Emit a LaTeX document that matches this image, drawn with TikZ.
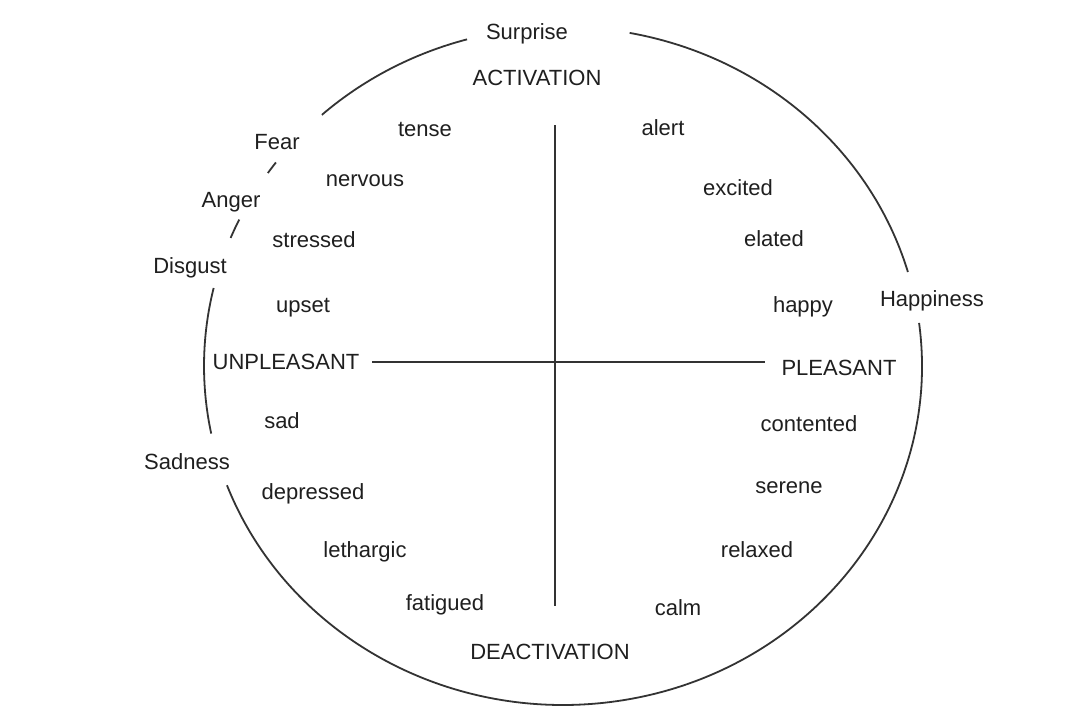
\documentclass[tikz,border=0pt]{standalone}
\usepackage{fontspec}
\setmainfont{Liberation Sans}
\begin{document}
\begin{tikzpicture}[x=1pt,y=-1pt,
  lbl/.style={anchor=base,inner sep=0pt,font=\fontsize{22}{26}\selectfont,text=black!88},
  axisline/.style={line width=1.8pt,draw=black!80},
  rim/.style={line width=1.8pt,draw=black!80}]
\useasboundingbox[fill=white] (0,0) rectangle (1080,720);
% rim arcs of the ellipse, centre (563,366)
\coordinate (c) at (563,366);
\draw[rim] (c) ++(-79.3:359 and 339) arc[start angle=-79.3, end angle=-16.1, x radius=359, y radius=339];
\draw[rim] (c) ++(-7.3:359 and 339) arc[start angle=-7.3, end angle=159.4, x radius=359, y radius=339];
\draw[rim] (c) ++(168.5:359 and 339) arc[start angle=168.5, end angle=193.3, x radius=359, y radius=339];
\draw[rim] (c) ++(202.2:359 and 339) arc[start angle=202.2, end angle=205.6, x radius=359, y radius=339];
\draw[rim] (c) ++(214.7:359 and 339) arc[start angle=214.7, end angle=216.9, x radius=359, y radius=339];
\draw[rim] (c) ++(227.8:359 and 339) arc[start angle=227.8, end angle=254.5, x radius=359, y radius=339];
% axes
\coordinate (vtop) at (555,125);
\coordinate (vbot) at (555,606);
\coordinate (hleft) at (372,362);
\coordinate (hright) at (765,362);
\draw[axisline] (vtop) -- (vbot);
\draw[axisline] (hleft) -- (hright);
% labels
\node[lbl] (surprise) at (527,39) {Surprise};
\node[lbl] (activation) at (537,85) {ACTIVATION};
\node[lbl] (tense) at (425,136) {tense};
\node[lbl] (fear) at (277,149) {Fear};
\node[lbl] (nervous) at (365,186) {nervous};
\node[lbl] (anger) at (231,207) {Anger};
\node[lbl] (stressed) at (314,247) {stressed};
\node[lbl] (disgust) at (190,273) {Disgust};
\node[lbl] (upset) at (303,312) {upset};
\node[lbl] (unpleasant) at (286,369) {UNPLEASANT};
\node[lbl] (sad) at (282,428) {sad};
\node[lbl] (sadness) at (187,469) {Sadness};
\node[lbl] (depressed) at (313,499) {depressed};
\node[lbl] (lethargic) at (365,557) {lethargic};
\node[lbl] (fatigued) at (445,610) {fatigued};
\node[lbl] (deactivation) at (550,659) {DEACTIVATION};
\node[lbl] (alert) at (663,135) {alert};
\node[lbl] (excited) at (738,195) {excited};
\node[lbl] (elated) at (774,246) {elated};
\node[lbl] (happy) at (803,312) {happy};
\node[lbl] (happiness) at (932,306) {Happiness};
\node[lbl] (pleasant) at (839,375) {PLEASANT};
\node[lbl] (contented) at (809,431) {contented};
\node[lbl] (serene) at (789,493) {serene};
\node[lbl] (relaxed) at (757,557) {relaxed};
\node[lbl] (calm) at (678,615) {calm};
\end{tikzpicture}
\end{document}
